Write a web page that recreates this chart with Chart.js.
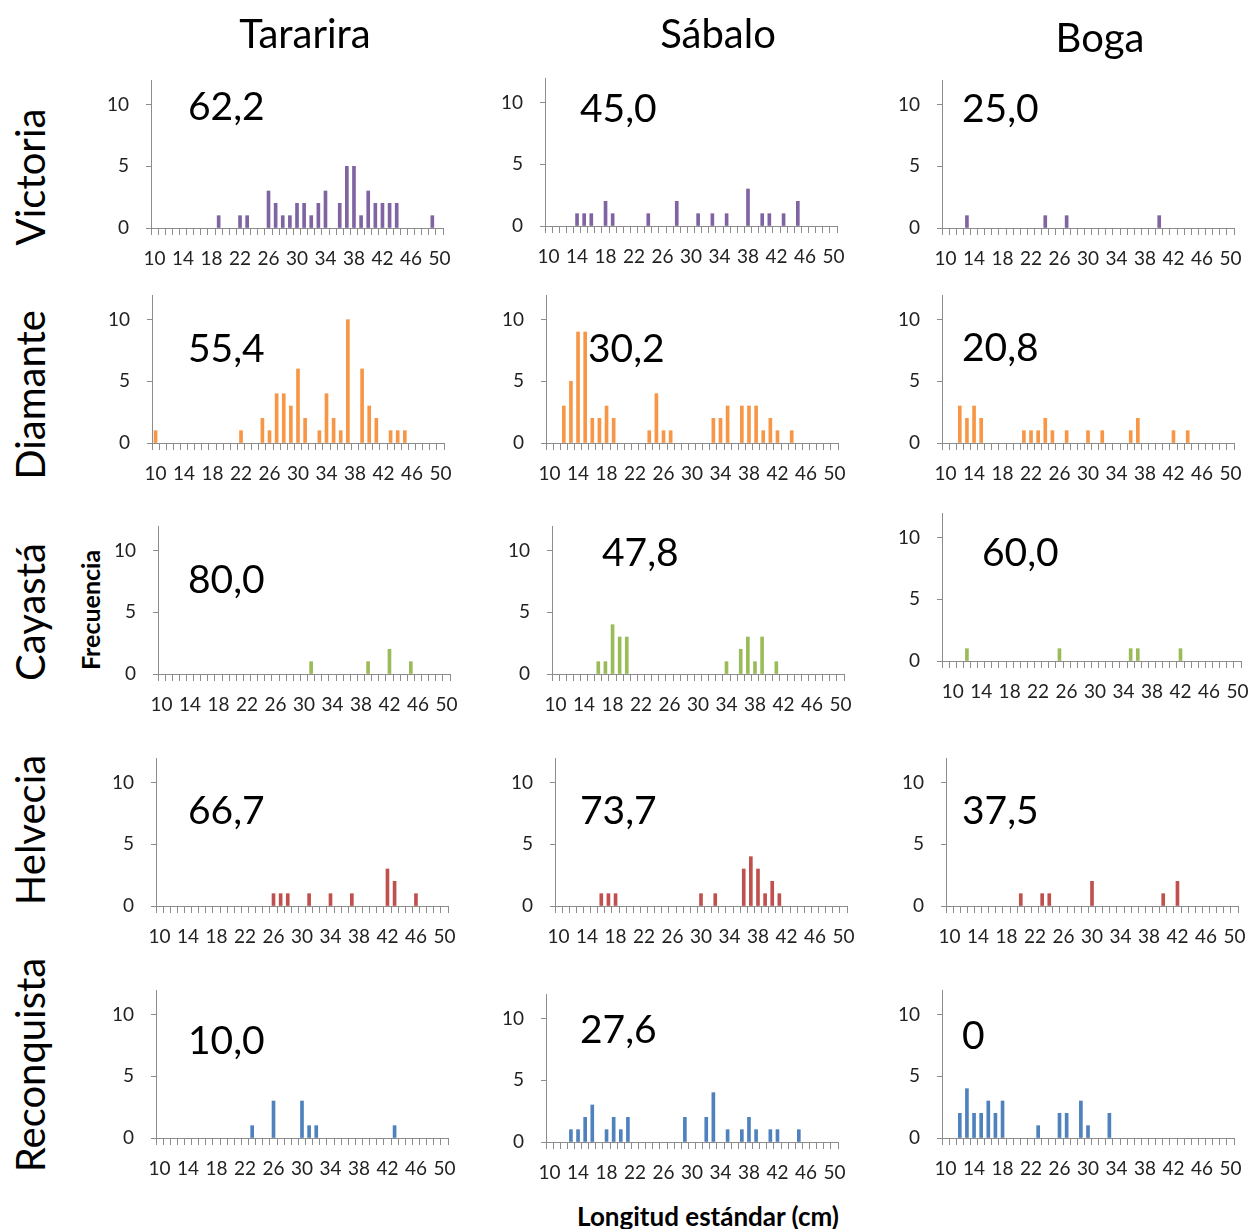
<!DOCTYPE html>
<html>
<head>
<meta charset="utf-8">
<script src="https://cdn.jsdelivr.net/npm/chart.js"></script>
<style>
  body { margin: 0; background: #fff; }
  #page { position: relative; width: 1252px; height: 1229px; overflow: hidden; font-family: Lato, "Open Sans", sans-serif; color: #000; }
  .panel { position: absolute; }
  .colTitle { position: absolute; font-size: 40px; line-height: 1; transform: translate(-50%, -50%); white-space: nowrap; }
  .rowTitle { position: absolute; font-size: 40px; line-height: 1; transform: translate(-50%, -50%) rotate(-90deg); white-space: nowrap; }
  .pct { position: absolute; font-size: 39px; line-height: 1; white-space: nowrap; }
  .axisTitle { position: absolute; font-weight: bold; line-height: 1; white-space: nowrap; }
</style>
</head>
<body>
<div id="page"></div>
<script>
// species (columns) and sites (rows)
const species = ['Tararira', 'Sábalo', 'Boga'];
const sites = ['Victoria', 'Diamante', 'Cayastá', 'Helvecia', 'Reconquista'];

// standard length classes (cm)
const lengths = [10, 11, 12, 13, 14, 15, 16, 17, 18, 19, 20, 21, 22, 23, 24, 25, 26, 27, 28, 29,
  30, 31, 32, 33, 34, 35, 36, 37, 38, 39, 40, 41, 42, 43, 44, 45, 46, 47, 48, 49, 50];
const lengthsBogaCayasta = [9, 10, 11, 12, 13, 14, 15, 16, 17, 18, 19, 20, 21, 22, 23, 24, 25, 26, 27, 28, 29,
  30, 31, 32, 33, 34, 35, 36, 37, 38, 39, 40, 41, 42, 43, 44, 45, 46, 47, 48, 49, 50];
const yTicks = [0, 5, 10];

// frequencies as [length, count]
const victoriaTararira = [[19,1],[22,1],[23,1],[26,3],[27,2],[28,1],[29,1],[30,2],[31,2],[32,1],[33,2],[34,3],[36,2],[37,5],[38,5],[39,1],[40,3],[41,2],[42,2],[43,2],[44,2],[49,1]];
const victoriaSabalo = [[14,1],[15,1],[16,1],[18,2],[19,1],[24,1],[28,2],[31,1],[33,1],[35,1],[38,3],[40,1],[41,1],[43,1],[45,2]];
const victoriaBoga = [[13,1],[24,1],[27,1],[40,1]];

const diamanteTararira = [[10,1],[22,1],[25,2],[26,1],[27,4],[28,4],[29,3],[30,6],[31,2],[33,1],[34,4],[35,2],[36,1],[37,10],[39,6],[40,3],[41,2],[43,1],[44,1],[45,1]];
const diamanteSabalo = [[12,3],[13,5],[14,9],[15,9],[16,2],[17,2],[18,3],[19,2],[24,1],[25,4],[26,1],[27,1],[33,2],[34,2],[35,3],[37,3],[38,3],[39,3],[40,1],[41,2],[42,1],[44,1]];
const diamanteBoga = [[12,3],[13,2],[14,3],[15,2],[21,1],[22,1],[23,1],[24,2],[25,1],[27,1],[30,1],[32,1],[36,1],[37,2],[42,1],[44,1]];

const cayastaTararira = [[31,1],[39,1],[42,2],[45,1]];
const cayastaSabalo = [[16,1],[17,1],[18,4],[19,3],[20,3],[34,1],[36,2],[37,3],[38,1],[39,3],[41,1]];
const cayastaBoga = [[12,1],[25,1],[35,1],[36,1],[42,1]];

const helveciaTararira = [[26,1],[27,1],[28,1],[31,1],[34,1],[37,1],[42,3],[43,2],[46,1]];
const helveciaSabalo = [[16,1],[17,1],[18,1],[30,1],[32,1],[36,3],[37,4],[38,3],[39,1],[40,2],[41,1]];
const helveciaBoga = [[20,1],[23,1],[24,1],[30,2],[40,1],[42,2]];

const reconquistaTararira = [[23,1],[26,3],[30,3],[31,1],[32,1],[43,1]];
const reconquistaSabalo = [[13,1],[14,1],[15,2],[16,3],[18,1],[19,2],[20,1],[21,2],[29,2],[32,2],[33,4],[35,1],[37,1],[38,2],[39,1],[41,1],[42,1],[45,1]];
const reconquistaBoga = [[12,2],[13,4],[14,2],[15,2],[16,3],[17,2],[18,3],[23,1],[26,2],[27,2],[29,3],[30,1],[33,2]];

// percentage printed in each panel
const percentVictoria = ['62,2', '45,0', '25,0'];
const percentDiamante = ['55,4', '30,2', '20,8'];
const percentCayasta = ['80,0', '47,8', '60,0'];
const percentHelvecia = ['66,7', '73,7', '37,5'];
const percentReconquista = ['10,0', '27,6', '0'];

const siteColors = ['#8064A2', '#F79646', '#9BBB59', '#C0504D', '#4F81BD'];

const grid = [
  [victoriaTararira, victoriaSabalo, victoriaBoga],
  [diamanteTararira, diamanteSabalo, diamanteBoga],
  [cayastaTararira, cayastaSabalo, cayastaBoga],
  [helveciaTararira, helveciaSabalo, helveciaBoga],
  [reconquistaTararira, reconquistaSabalo, reconquistaBoga]
];
const percents = [percentVictoria, percentDiamante, percentCayasta, percentHelvecia, percentReconquista];

// layout: y-axis x position and baseline y of each panel
const axisPos = [
  [[151, 228], [545, 226], [942, 228]],
  [[152, 443], [546, 443], [942, 443]],
  [[158, 674], [552, 674], [942, 661]],
  [[156, 906], [555, 906], [946, 906]],
  [[156, 1138], [546, 1142], [942, 1138]]
];
const pctPos = [
  [[188, 104], [580, 106], [962, 106]],
  [[188, 346], [588, 346], [962, 345]],
  [[188, 577], [602, 550], [982, 550]],
  [[188, 808], [580, 808], [962, 808]],
  [[188, 1038], [580, 1027], [962, 1033]]
];

const page = document.getElementById('page');
const CAT_W = 7.12, PLOT_H = 148, Y_AXIS_W = 48, X_AXIS_H = 42, PAD_TOP = 32, PAD_RIGHT = 24;
const FONT = 'Lato, "Open Sans", sans-serif';

function addText(cls, text, x, y, extra) {
  const d = document.createElement('div');
  d.className = cls;
  d.textContent = text;
  d.style.left = x + 'px';
  d.style.top = y + 'px';
  if (extra) Object.assign(d.style, extra);
  page.appendChild(d);
}

function makePanel(r, c) {
  const cats = (r === 2 && c === 2) ? lengthsBogaCayasta : lengths;
  const pairs = grid[r][c];
  const counts = cats.map(len => {
    const p = pairs.find(q => q[0] === len);
    return p ? p[1] : null;
  });
  const [ax, base] = axisPos[r][c];
  const w = Math.round(Y_AXIS_W + cats.length * CAT_W + PAD_RIGHT);
  const h = PAD_TOP + PLOT_H + X_AXIS_H;
  const cv = document.createElement('canvas');
  cv.className = 'panel';
  cv.width = w; cv.height = h;
  cv.style.width = w + 'px'; cv.style.height = h + 'px';
  cv.style.left = (ax - Y_AXIS_W) + 'px';
  cv.style.top = (base - PLOT_H - PAD_TOP) + 'px';
  page.appendChild(cv);

  new Chart(cv.getContext('2d'), {
    type: 'bar',
    data: {
      labels: cats,
      datasets: [{ data: counts, backgroundColor: siteColors[r], barThickness: 3 }]
    },
    options: {
      responsive: false,
      animation: false,
      layout: { padding: { top: PAD_TOP, right: PAD_RIGHT, left: 0, bottom: 0 } },
      plugins: { legend: { display: false }, tooltip: { enabled: false } },
      scales: {
        x: {
          grid: { drawOnChartArea: false, offset: true, tickLength: 7, color: '#8c8c8c' },
          border: { color: '#8c8c8c' },
          ticks: {
            autoSkip: false, maxRotation: 0, minRotation: 0, padding: 12,
            color: '#222', font: { family: FONT, size: 19 },
            callback: (v, i) => (cats[i] - 10) % 4 === 0 ? String(cats[i]) : ''
          },
          afterFit: s => { s.height = X_AXIS_H; }
        },
        y: {
          min: 0, max: 12,
          grid: { drawOnChartArea: false, tickLength: 5, color: '#8c8c8c' },
          border: { color: '#8c8c8c' },
          ticks: { padding: 17, color: '#222', font: { family: FONT, size: 19 } },
          afterBuildTicks: s => { s.ticks = yTicks.map(v => ({ value: v })); },
          afterFit: s => { s.width = Y_AXIS_W; }
        }
      }
    }
  });

  const [px, py] = pctPos[r][c];
  addText('pct', percents[r][c], px, py - 18);
}

for (let r = 0; r < sites.length; r++) {
  for (let c = 0; c < species.length; c++) makePanel(r, c);
}

// titles
const colTitleX = [305, 718, 1100];
const colTitleY = [33, 33, 37];
species.forEach((s, i) => addText('colTitle', s, colTitleX[i], colTitleY[i]));
const rowTitleY = [177, 395, 612, 830, 1065];
sites.forEach((s, i) => addText('rowTitle', s, 30, rowTitleY[i]));

addText('axisTitle', 'Frecuencia', 90, 610, { fontSize: '25px', transform: 'translate(-50%, -50%) rotate(-90deg)' });
addText('axisTitle', 'Longitud estándar (cm)', 708, 1216, { fontSize: '26px', transform: 'translate(-50%, -50%)' });
</script>
</body>
</html>
